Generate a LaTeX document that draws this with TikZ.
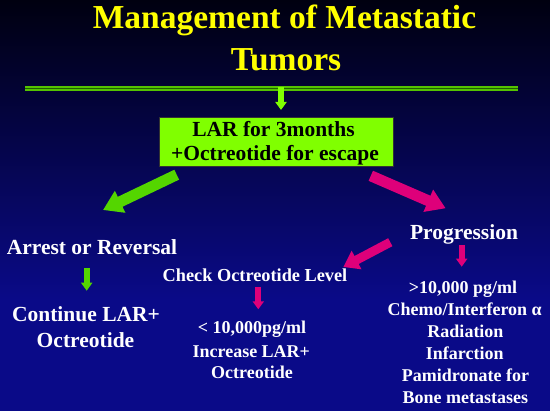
\documentclass[tikz,border=0pt]{standalone}
\usepackage{fontspec}
\setmainfont{Liberation Serif}
\usetikzlibrary{arrows.meta}
\definecolor{bgtop}{RGB}{0,0,16}
\definecolor{bgbot}{RGB}{10,10,136}
\definecolor{ttl}{RGB}{255,255,0}
\definecolor{boxg}{RGB}{128,255,0}
\definecolor{arrg}{RGB}{84,214,0}
\definecolor{mag}{RGB}{222,0,122}
\definecolor{lineg}{RGB}{85,195,0}
\definecolor{lined}{RGB}{30,95,0}
\begin{document}
\begin{tikzpicture}[x=1pt,y=-1pt,
  lbl/.style={anchor=base, text=white, inner sep=0pt, font=\bfseries\fontsize{#1}{#1}\selectfont},
  ttlstyle/.style={anchor=base, text=ttl, inner sep=0pt, font=\bfseries\fontsize{33.5}{33.5}\selectfont},
  boxstyle/.style={draw=black!80, line width=0.8pt, fill=boxg, minimum width=234pt, minimum height=49pt,
     inner sep=0pt},
  boxtext/.style={anchor=base, text=black, inner sep=0pt, font=\bfseries\fontsize{21.5}{21.5}\selectfont},
  bigarrow/.style={line width=11pt, -{Triangle[length=19pt,width=23pt]}},
  midarrow/.style={line width=9pt, -{Triangle[length=15pt,width=20pt]}},
  smallarrow/.style={line width=6pt, -{Triangle[length=8pt,width=11pt]}}]
\useasboundingbox (0,0) rectangle (550,411);
\fill[top color=bgtop, bottom color=bgbot] (0,0) rectangle (550,300);
\fill[bgbot] (0,299.5) rectangle (550,411);

% title
\node[ttlstyle] (t1) at (284.5,29) {Management of Metastatic};
\node[ttlstyle] (t2) at (286,71) {Tumors};

% double rule
\coordinate (rl) at (25,88.5);
\coordinate (rr) at (518,88.5);
\draw[lineg, line width=5pt] (rl) -- (rr);
\draw[lined, line width=1.2pt] (rl) -- (rr);

% box
\node[boxstyle] (box) at (276,141.5) {};
\node[boxtext] (b1) at (273.5,137) {LAR for 3months};
\node[boxtext] (b2) at (275,161) {+Octreotide for escape};

% left branch
\node[lbl=21.5] (arrest) at (92,255) {Arrest or Reversal};
\node[lbl=21.5] (cont1) at (86,321.7) {Continue LAR+};
\node[lbl=21.5] (cont2) at (85.5,347.3) {Octreotide};

% right branch
\node[lbl=21.5] (prog) at (464,240) {Progression};
\node[lbl=18.3] (check) at (255,281.7) {Check Octreotide Level};
\node[lbl=18] (low1) at (252,334) {< 10,000pg/ml};
\node[lbl=18] (low2) at (251.3,357.3) {Increase LAR+};
\node[lbl=18] (low3) at (252,378.3) {Octreotide};

\node[lbl=18] (hi1) at (463,293.3) {>10,000 pg/ml};
\node[lbl=18] (hi2) at (464.7,315.7) {Chemo/Interferon α};
\node[lbl=18] (hi3) at (465.5,337.3) {Radiation};
\node[lbl=18] (hi4) at (464.7,359.3) {Infarction};
\node[lbl=18] (hi5) at (465.5,381.7) {Pamidronate for};
\node[lbl=18] (hi6) at (465.3,403.3) {Bone metastases};

% arrows
\coordinate (a0s) at (281,87);
\coordinate (a0e) at (281,110);
\draw[smallarrow, boxg] (a0s) -- (a0e);

\coordinate (gls) at (176.7,174.7);
\coordinate (gle) at (103,210);
\draw[bigarrow, arrg] (gls) -- (gle);

\coordinate (mrs) at (370.8,175.8);
\coordinate (mre) at (445.7,208.3);
\draw[bigarrow, mag] (mrs) -- (mre);

\coordinate (a1s) at (86.7,268);
\coordinate (a1e) at (86.7,290.7);
\draw[smallarrow, arrg] (a1s) -- (a1e);

\coordinate (pcs) at (390.3,242.2);
\coordinate (pce) at (343.3,267);
\draw[midarrow, mag] (pcs) -- (pce);

\coordinate (a2s) at (258.3,286.7);
\coordinate (a2e) at (258.3,309.3);
\draw[smallarrow, mag] (a2s) -- (a2e);

\coordinate (a3s) at (461.7,245);
\coordinate (a3e) at (461.7,266.7);
\draw[smallarrow, mag] (a3s) -- (a3e);
\end{tikzpicture}
\end{document}
